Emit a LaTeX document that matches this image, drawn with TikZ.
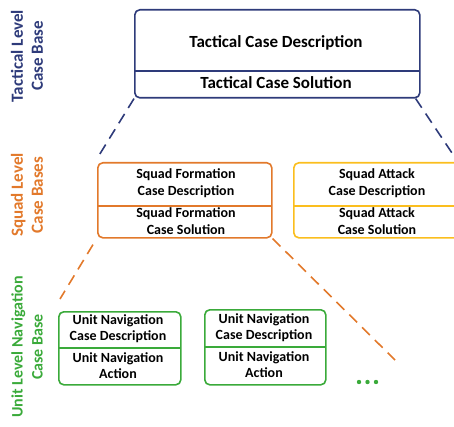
\documentclass[tikz,border=0pt]{standalone}
\usepackage{fontspec}
\setmainfont{Carlito}
\definecolor{navy}{HTML}{2E3B7A}
\definecolor{squadorange}{HTML}{E2792B}
\definecolor{attackgold}{HTML}{FBBE1E}
\definecolor{unitgreen}{HTML}{3AAA3A}
\tikzset{
  casebox/.style={draw, line width=1.6pt, rounded corners=5pt, inner sep=0pt, anchor=north west},
  divider/.style={line width=1.6pt},
  casetext/.style={font=\bfseries, align=center, inner sep=0pt, text=black},
  levellabel/.style={font=\bfseries\fontsize{17}{20}\selectfont, rotate=90, align=center, inner sep=0pt},
  zoomline/.style={line width=1.6pt, dash pattern=on 11pt off 7pt},
}
\begin{document}
\begin{tikzpicture}[x=1pt,y=-1pt]
\useasboundingbox (0,0) rectangle (454,427);

% level labels
\node[levellabel, text=navy] (ltac) at (27,56) {Tactical Level\\Case Base};
\node[levellabel, text=squadorange] (lsquad) at (27,195) {Squad Level\\Case Bases};
\node[levellabel, text=unitgreen, font=\bfseries\fontsize{16}{20}\selectfont] (lunit) at (27,347) {Unit Level Navigation\\Case Base};

% tactical case
\node[casebox, navy, minimum width=285pt, minimum height=88pt] (tac) at (134,9) {};
\draw[divider, navy] (134,71) -- (419,71);
\node[casetext, font=\bfseries\fontsize{17}{20}\selectfont] (tacd) at (276,43) {Tactical Case Description};
\node[casetext, font=\bfseries\fontsize{17}{20}\selectfont] (tacs) at (276,83) {Tactical Case Solution};

% squad formation case
\node[casebox, squadorange, minimum width=174pt, minimum height=75pt] (sqf) at (97,162) {};
\draw[divider, squadorange] (97,206) -- (271,206);
\node[casetext, font=\bfseries\fontsize{14}{17}\selectfont] (sqfd) at (186,183) {Squad Formation\\Case Description};
\node[casetext, font=\bfseries\fontsize{14}{17}\selectfont] (sqfs) at (186,221) {Squad Formation\\Case Solution};

% squad attack case
\node[casebox, attackgold, minimum width=174pt, minimum height=75pt] (sqa) at (293,162) {};
\draw[divider, attackgold] (293,206) -- (467,206);
\node[casetext, font=\bfseries\fontsize{14}{17}\selectfont] (sqad) at (377,183) {Squad Attack\\Case Description};
\node[casetext, font=\bfseries\fontsize{14}{17}\selectfont] (sqas) at (377,221) {Squad Attack\\Case Solution};

% unit navigation cases
\node[casebox, unitgreen, minimum width=122pt, minimum height=73pt] (un1) at (58,311) {};
\draw[divider, unitgreen] (58,348) -- (180,348);
\node[casetext, font=\bfseries\fontsize{14}{16}\selectfont] (un1d) at (118,329) {Unit Navigation\\Case Description};
\node[casetext, font=\bfseries\fontsize{14}{16}\selectfont] (un1a) at (118,366) {Unit Navigation\\Action};

\node[casebox, unitgreen, minimum width=121pt, minimum height=75pt] (un2) at (204,309) {};
\draw[divider, unitgreen] (204,347) -- (325,347);
\node[casetext, font=\bfseries\fontsize{14}{16}\selectfont] (un2d) at (264,328) {Unit Navigation\\Case Description};
\node[casetext, font=\bfseries\fontsize{14}{16}\selectfont] (un2a) at (264,365) {Unit Navigation\\Action};

% more unit cases follow
\foreach \dx in {359,367.5,376}
  \fill[unitgreen] (\dx,382) circle (2.2pt);

% zoom lines between levels
\coordinate (tacl) at (98,157);
\coordinate (tacr) at (458,162);
\draw[zoomline, navy] (tac.south west) -- (tacl);
\draw[zoomline, navy] ([xshift=-5pt]tac.south east) -- (tacr);
\coordinate (sqfl) at (60,299);
\coordinate (sqfr) at (395,360);
\draw[zoomline, squadorange] ([xshift=-4pt,yshift=-6pt]sqf.south west) -- (sqfl);
\draw[zoomline, squadorange] (sqf.south east) -- (sqfr);
\end{tikzpicture}
\end{document}
